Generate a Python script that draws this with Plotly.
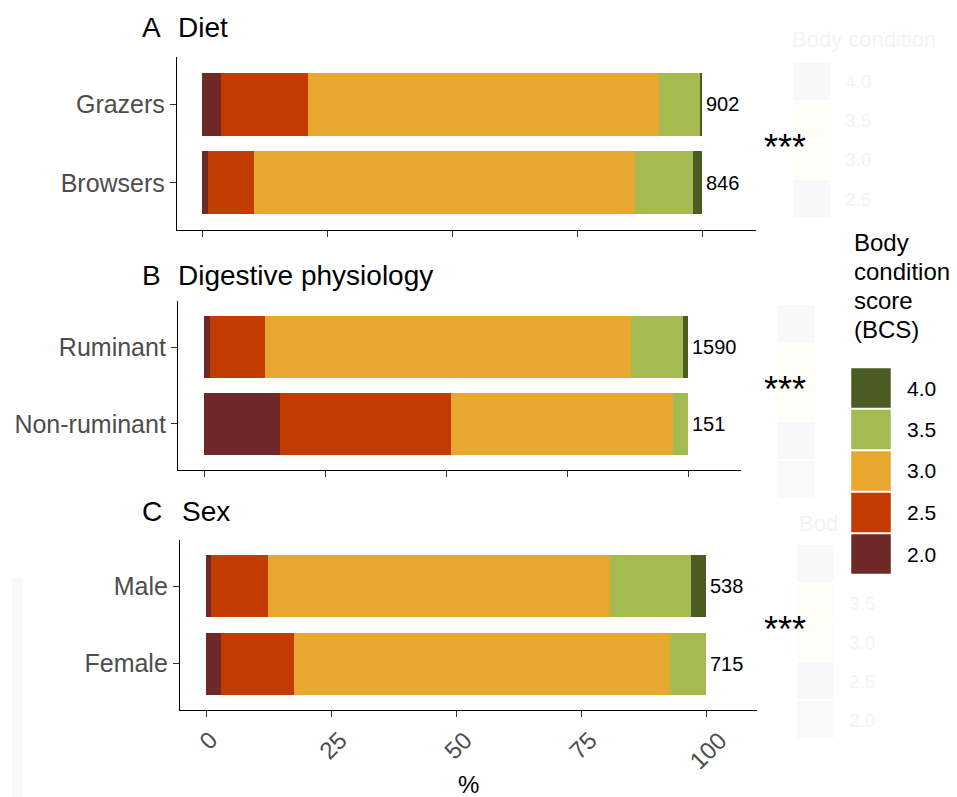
import plotly.graph_objects as go

# page body has an 8px margin; figure is sized so it ends at the window edge
OFF = 8
W, H = 957 - OFF, 797 - OFF

# ---------------- data ----------------
bcs_levels = ["2.0", "2.5", "3.0", "3.5", "4.0"]
bcs_colors = ["#6E2828", "#C23B00", "#E8A830", "#A5BB52", "#4A5C22"]

diet_groups = ["Grazers", "Browsers"]
diet_pct = {
    "Grazers":  [3.8, 17.3, 70.2, 8.4, 0.3],
    "Browsers": [1.2, 9.1, 76.2, 11.7, 1.8],
}
diet_n = [902, 846]

dig_groups = ["Ruminant", "Non-ruminant"]
dig_pct = {
    "Ruminant":     [1.3, 11.2, 75.8, 10.7, 1.0],
    "Non-ruminant": [15.8, 35.2, 45.9, 3.1, 0.0],
}
dig_n = [1590, 151]

sex_groups = ["Male", "Female"]
sex_pct = {
    "Male":   [1.0, 11.3, 68.5, 16.1, 3.1],
    "Female": [2.9, 14.6, 75.2, 7.3, 0.0],
}
sex_n = [538, 715]

panel_letters = ["A", "B", "C"]
panel_titles = ["Diet", "Digestive physiology", "Sex"]
signif = ["***", "***", "***"]
x_ticks = [0, 25, 50, 75, 100]
x_title = "%"
legend_title_lines = ["Body", "condition", "score", "(BCS)"]

FONT = "Liberation Sans, Arial, Helvetica, sans-serif"

# panel geometry in window pixels: x0, x1, ytop, ybottom, px of 0%, px of 100%
panels = [
    dict(x0=177, x1=756, yt=57, yb=230, z=202, h=702, groups=diet_groups, pct=diet_pct, n=diet_n),
    dict(x0=178, x1=741, yt=301, yb=470, z=204, h=688, groups=dig_groups, pct=dig_pct, n=dig_n),
    dict(x0=180, x1=757, yt=540, yb=710, z=206, h=706, groups=sex_groups, pct=sex_pct, n=sex_n),
]

def px(x):
    return (x - OFF) / W

def py(y):
    return 1 - (y - OFF) / H

fig = go.Figure()
annotations = []
shapes = []

# faint ghost legends / artefacts of the composite image (drawn underneath)
ghost_text = "#F4F4F4"
ghost_fills = ["#F8F8F8", "#FEFEF6", "#FEFEF6", "#F8F8F8", "#F9F9F9"]
ghosts = [
    dict(tx=790, ty=40, title="Body condition", sx=793, sy=63, labels=["4.0", "3.5", "3.0", "2.5"]),
    dict(tx=None, ty=None, title="", sx=778, sy=305, labels=["", "", "", "", ""]),
    dict(tx=797, ty=523, title="Bod", sx=797, sy=545, labels=["", "3.5", "3.0", "2.5", "2.0"]),
]
for gdef in ghosts:
    if gdef["title"]:
        annotations.append(dict(
            x=px(gdef["tx"]), y=py(gdef["ty"]), xref="paper", yref="paper", text=gdef["title"],
            showarrow=False, xanchor="left", yanchor="middle",
            font=dict(family=FONT, size=22, color=ghost_text),
        ))
    for idx, lab in enumerate(gdef["labels"]):
        y0 = gdef["sy"] + idx * 39
        shapes.append(dict(
            type="rect", xref="paper", yref="paper", layer="below",
            x0=px(gdef["sx"]), x1=px(gdef["sx"] + 37), y0=py(y0), y1=py(y0 + 37),
            fillcolor=ghost_fills[idx % len(ghost_fills)], line=dict(width=0),
        ))
        if lab:
            annotations.append(dict(
                x=px(gdef["sx"] + 50), y=py(y0 + 19), xref="paper", yref="paper", text=lab,
                showarrow=False, xanchor="left", yanchor="middle",
                font=dict(family=FONT, size=19, color=ghost_text),
            ))
shapes.append(dict(
    type="rect", xref="paper", yref="paper", layer="below",
    x0=px(12), x1=px(23), y0=py(578), y1=0,
    fillcolor="#F9F9F9", line=dict(width=0),
))

for i, p in enumerate(panels):
    k = "" if i == 0 else str(i + 1)
    xa, ya = "x" + k, "y" + k
    for j, lvl in enumerate(bcs_levels):
        fig.add_trace(go.Bar(
            orientation="h",
            y=p["groups"],
            x=[p["pct"][g][j] for g in p["groups"]],
            marker=dict(color=bcs_colors[j], line=dict(width=0)),
            width=0.8,
            name=lvl,
            showlegend=False,
            xaxis=xa, yaxis=ya,
        ))
    s = (p["h"] - p["z"]) / 100.0
    xr = [(p["x0"] - p["z"]) / s, (p["x1"] - p["z"]) / s]
    fig.layout["xaxis" + k] = dict(
        domain=[px(p["x0"]), px(p["x1"])], range=xr, anchor=ya,
        showline=True, linecolor="black", linewidth=1.3,
        ticks="outside", ticklen=6, tickwidth=1.3, tickcolor="#333333",
        tickvals=x_ticks, showticklabels=False, showgrid=False, zeroline=False,
        fixedrange=True,
    )
    fig.layout["yaxis" + k] = dict(
        domain=[py(p["yb"]), py(p["yt"])], anchor=xa,
        type="category", categoryorder="array", categoryarray=p["groups"][::-1],
        range=[-0.6, 1.6],
        showline=True, linecolor="black", linewidth=1.3,
        ticks="outside", ticklen=6, tickwidth=1.3, tickcolor="#333333",
        tickfont=dict(family=FONT, size=25, color="#4D4D4D"),
        showgrid=False, zeroline=False, fixedrange=True,
    )

    # sample sizes
    for g, nval in zip(p["groups"], p["n"]):
        annotations.append(dict(
            x=100, y=g, xref=xa, yref=ya, text=str(nval), showarrow=False,
            xanchor="left", yanchor="middle", xshift=2,
            font=dict(family=FONT, size=20, color="black"),
        ))
    # significance stars
    annotations.append(dict(
        x=px(785), y=0.5, xref="paper", yref=ya, text=signif[i], showarrow=False,
        xanchor="center", yanchor="middle", yshift=-4,
        font=dict(family=FONT, size=36, color="black"),
    ))

# panel titles
title_y = [27, 275, 511]
title_x = [176, 176, 180]
for i in range(3):
    annotations.append(dict(
        x=px(140), y=py(title_y[i]), xref="paper", yref="paper", text=panel_letters[i],
        showarrow=False, xanchor="left", yanchor="middle",
        font=dict(family=FONT, size=28, color="black"),
    ))
    annotations.append(dict(
        x=px(title_x[i]), y=py(title_y[i]), xref="paper", yref="paper", text=panel_titles[i],
        showarrow=False, xanchor="left", yanchor="middle",
        font=dict(family=FONT, size=28, color="black"),
    ))

# x tick labels of bottom panel (rotated)
for t in x_ticks:
    annotations.append(dict(
        x=t, y=py(724), xref="x3", yref="paper", text=str(t), showarrow=False,
        xanchor="center", yanchor="top", textangle=-45, xshift=2,
        font=dict(family=FONT, size=24, color="#4D4D4D"),
    ))
annotations.append(dict(
    x=px(468), y=py(784), xref="paper", yref="paper", text=x_title, showarrow=False,
    xanchor="center", yanchor="middle", font=dict(family=FONT, size=24, color="black"),
))

# legend
for li, line in enumerate(legend_title_lines):
    annotations.append(dict(
        x=px(852), y=py(243 + li * 28.7), xref="paper", yref="paper", text=line,
        showarrow=False, xanchor="left", yanchor="middle",
        font=dict(family=FONT, size=24, color="black"),
    ))
leg_top = 368
step = 41.5
for idx, (lvl, col) in enumerate(zip(bcs_levels[::-1], bcs_colors[::-1])):
    y0 = leg_top + idx * step
    shapes.append(dict(
        type="rect", xref="paper", yref="paper",
        x0=px(851), x1=px(891), y0=py(y0), y1=py(y0 + step - 1.5),
        fillcolor=col, line=dict(color="white", width=0.5), layer="above",
    ))
    annotations.append(dict(
        x=px(905), y=py(y0 + (step - 1.5) / 2), xref="paper", yref="paper", text=lvl,
        showarrow=False, xanchor="left", yanchor="middle",
        font=dict(family=FONT, size=21, color="black"),
    ))

fig.update_layout(
    width=W, height=H,
    margin=dict(l=0, r=0, t=0, b=0),
    paper_bgcolor="white", plot_bgcolor="rgba(0,0,0,0)",
    barmode="stack", bargap=0.2,
    showlegend=False,
    annotations=annotations, shapes=shapes,
    font=dict(family=FONT),
)

fig.write_html("out.html")
